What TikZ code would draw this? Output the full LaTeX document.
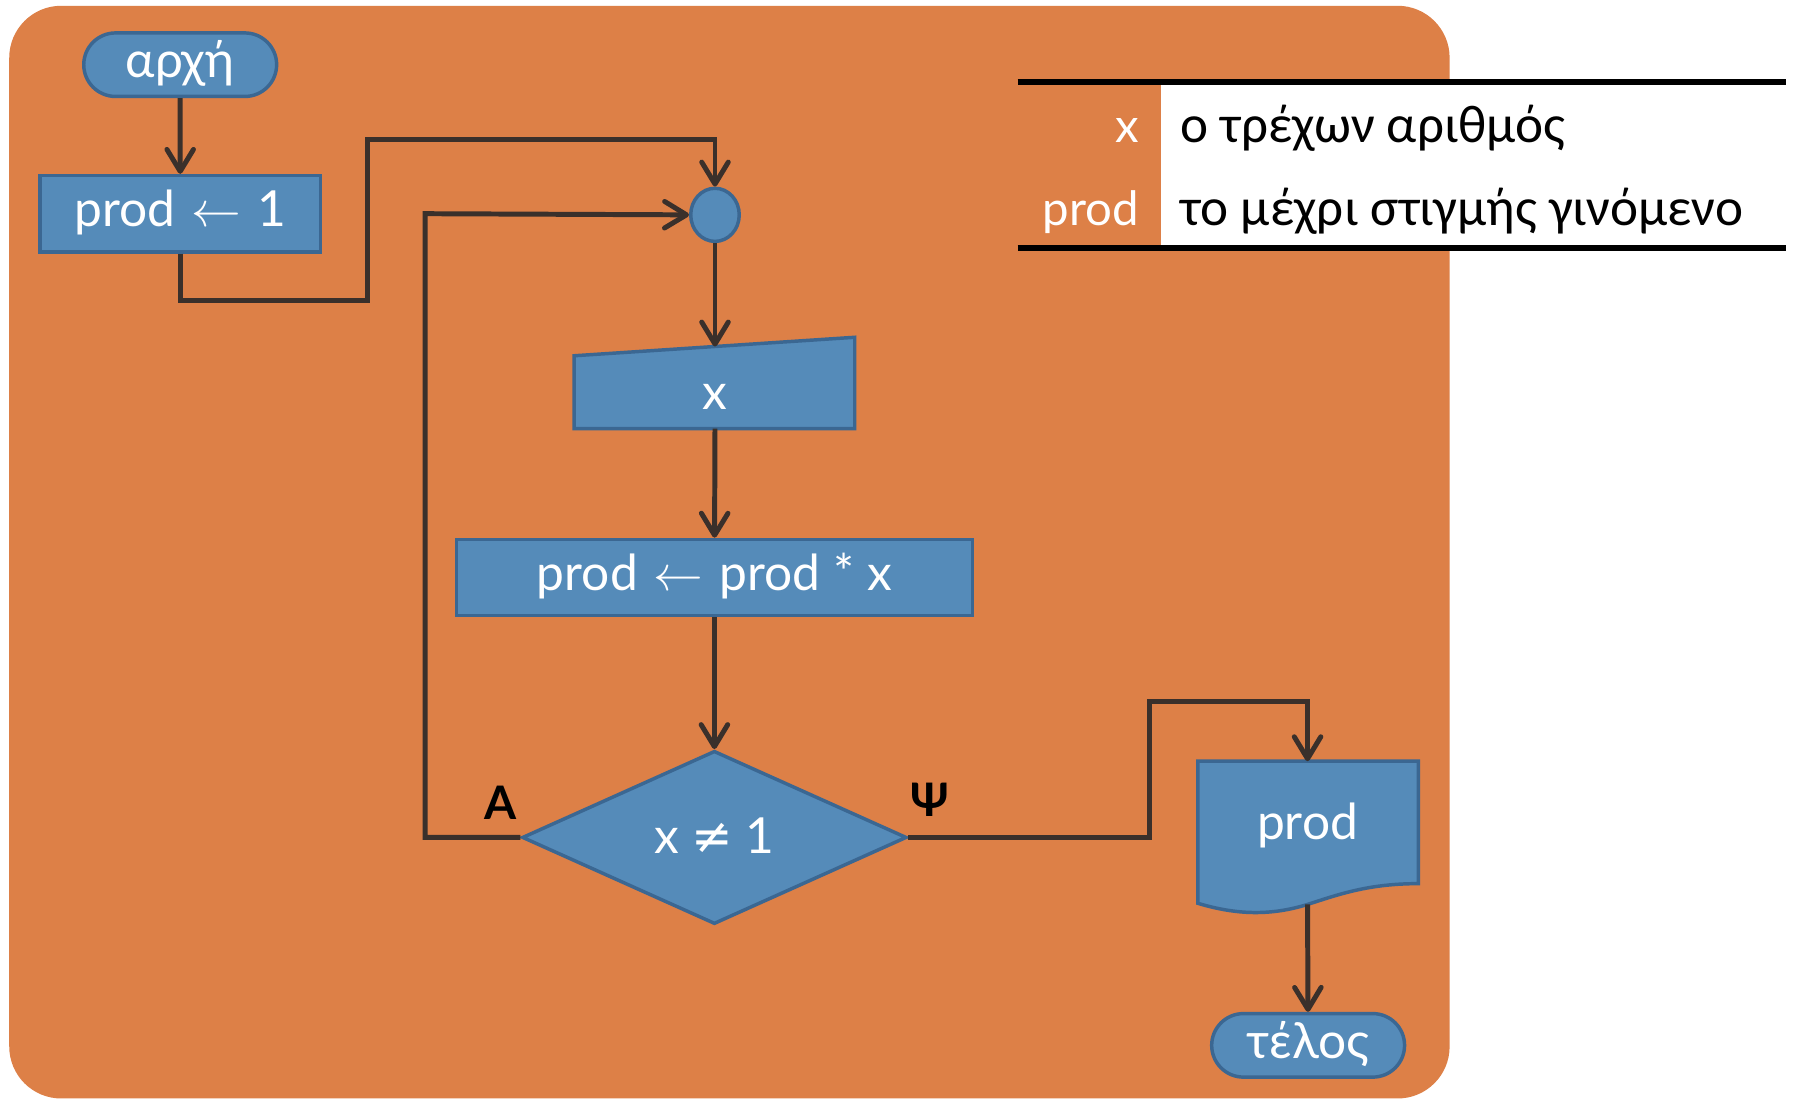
\documentclass[tikz,border=0pt]{standalone}
\usepackage{fontspec}
\setmainfont{Lato}
\newfontfamily\tabfont{Carlito}
\newfontfamily\symf{DejaVu Sans}
\usetikzlibrary{arrows.meta,shapes.geometric,shapes.misc}
\definecolor{bgorange}{HTML}{DD8047}
\definecolor{boxblue}{HTML}{558BB9}
\definecolor{boxedge}{HTML}{3B6792}
\definecolor{linec}{HTML}{3A302B}
\newcommand{\larr}{\hspace{14pt}{\fontsize{10}{12}\selectfont\scalebox{4.3}{$\leftarrow$}}\hspace{14pt}}
\begin{document}
\begin{tikzpicture}[x=1pt,y=-1pt,
  blk/.style={draw=boxedge, line width=3pt, fill=boxblue, line join=miter},
  flowtext/.style={text=white, font=\fontsize{43}{50}\selectfont, inner sep=0pt, text height=23pt, text depth=0pt},
  procbox/.style={blk, flowtext, rectangle},
  termbox/.style={blk, flowtext, rounded rectangle, minimum width=167pt, minimum height=55pt},
  conn/.style={draw=linec, line width=4.3pt, line join=miter, -{Straight Barb[length=19pt,width=23pt,round]}},
  lbl/.style={font=\bfseries\fontsize{40}{48}\selectfont, text=black, inner sep=0pt},
  tabl/.style={font=\tabfont\fontsize{46}{54}\selectfont, inner sep=0pt, text=black, anchor=base west},
  tabk/.style={font=\fontsize{41}{48}\selectfont, inner sep=0pt, text=white, anchor=base east}
]
\useasboundingbox (0,0) rectangle (1567,951);
\fill[white] (0,0) rectangle (1567,951);
\fill[bgorange, rounded corners=45pt] (8,5) rectangle (1255,951);

% legend table
\fill[white] (1005,71) rectangle (1546,215);
\draw[line width=5pt] (881,71) -- (1546,71);
\draw[line width=5pt] (881,215) -- (1546,215);
\node[tabk] (kx) at (986,123) {x};
\node[tabl] (vx) at (1022,123) {ο τρέχων αριθμός};
\node[tabk] (kp) at (986,195) {prod};
\node[tabl] (vp) at (1022,195) {το μέχρι στιγμής γινόμενο};

% flowchart nodes
\node[termbox] (start) at (156,56) {αρχή};
\node[procbox, minimum width=243pt, minimum height=66pt] (init) at (156,185) {prod\larr 1};
\node[blk, ellipse, minimum width=42pt, minimum height=46pt, inner sep=0pt] (join) at (619,186) {};

\path[blk] (497,308) -- (740,292) -- (740,371) -- (497,371) -- cycle;
\node[flowtext] (inp) at (619,343) {x};
\coordinate (inptop) at (619,300);
\coordinate (inpbot) at (619,371);

\node[procbox, minimum width=447pt, minimum height=66pt] (mul) at (618.5,500) {prod\larr prod * x};
\node[blk, diamond, minimum width=333pt, minimum height=150pt, inner sep=0pt] (dec) at (618.5,725) {};
\node[flowtext] (dectext) at (618.5,727) {x {\symf ≠} 1};

\path[blk] (1037,659) -- (1228,659) -- (1228,765)
  .. controls (1185,765) and (1160,774) .. (1132,783)
  .. controls (1100,793) and (1070,792) .. (1037,782) -- cycle;
\node[flowtext] (out) at (1132,715) {prod};
\coordinate (outtop) at (1132,659);
\coordinate (outbot) at (1132,783);

\node[termbox] (end) at (1132.5,905) {τέλος};

\node[lbl] (la) at (433,695) {Α};
\node[lbl] (lp) at (805,692) {Ψ};

% connectors
\draw[conn] (start) -- (init);
\draw[conn] (init.south) -- (156,260) -| (318,121) -| (join.north);
\draw[conn] (join) -- (inptop);
\draw[conn] (inpbot) -- (mul);
\draw[conn] (mul) -- (dec);
\draw[conn] (dec.west) -| (368,185) -- (join.west);
\draw[conn] (dec.east) -| (995,607) -| (outtop);
\draw[conn] (outbot) -- (end);
\end{tikzpicture}
\end{document}
